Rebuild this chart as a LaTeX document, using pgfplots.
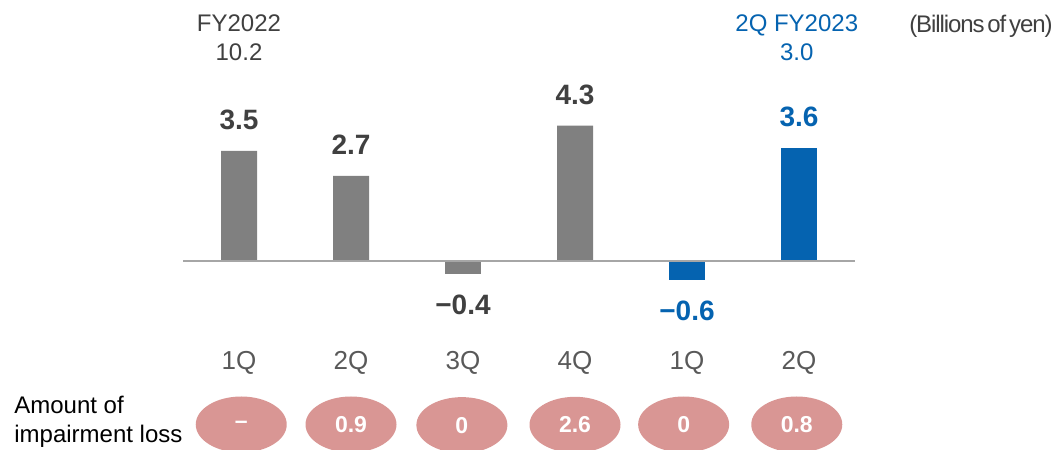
\documentclass[border=0pt]{standalone}
\usepackage{fontspec}
\setmainfont{Liberation Sans}
\newfontfamily\tightfont[LetterSpace=-4.5,WordSpace=0.5]{Liberation Sans}
\usepackage{pgfplots}
\pgfplotsset{compat=1.18}
\usetikzlibrary{shapes.geometric}

\definecolor{bargray}{HTML}{808080}
\definecolor{barblue}{HTML}{0563B0}
\definecolor{valtext}{HTML}{404040}
\definecolor{qtext}{HTML}{595959}
\definecolor{zeroline}{HTML}{A6A6A6}
\definecolor{losspink}{HTML}{D99694}

\pgfplotsset{
  qbar/.style={ybar, bar width=18pt, bar shift=0pt, draw=none,
    nodes near coords, point meta=explicit symbolic},
  poslabel/.style={nodes near coords style={font=\fontsize{14}{16}\selectfont\bfseries,
      anchor=base, inner sep=0pt, yshift=10.5pt}},
  neglabel/.style={nodes near coords style={font=\fontsize{14}{16}\selectfont\bfseries,
      anchor=base, inner sep=0pt, yshift=-20.5pt}},
}
\tikzset{
  qlabel/.style={anchor=base, inner sep=0pt, text=qtext, font=\fontsize{13}{15}\selectfont},
  toplabel/.style={anchor=base, inner sep=0pt, font=\fontsize{12}{14}\selectfont},
}

\begin{document}
\begin{tikzpicture}
\begin{axis}[
  scale only axis, width=527.5pt, height=224.5pt,
  xmin=-2.1339, xmax=7.2857, ymin=-5.968, ymax=8.286,
  hide axis, clip=false,
]
% FY2022 quarterly results
\addplot[qbar, fill=bargray, poslabel, nodes near coords style={text=valtext}]
  table[meta=label] {
  x y label
  0 3.5 3.5
  1 2.7 2.7
  3 4.3 4.3
};
\addplot[qbar, fill=bargray, neglabel, nodes near coords style={text=valtext}]
  table[meta=label] {
  x y label
  2 -0.4 −0.4
};
% FY2023 quarterly results
\addplot[qbar, fill=barblue, neglabel, nodes near coords style={text=barblue}]
  table[meta=label] {
  x y label
  4 -0.6 −0.6
};
\addplot[qbar, fill=barblue, poslabel, nodes near coords style={text=barblue}]
  table[meta=label] {
  x y label
  5 3.6 3.6
};
% zero line
\addplot[zeroline, line width=1pt] coordinates {(-0.5,0) (5.5,0)};

% impairment loss badges
\addplot[draw=none, mark=none, nodes near coords, point meta=explicit symbolic,
  nodes near coords style={ellipse, fill=losspink, text=white, inner sep=0pt,
    minimum width=45.5pt, minimum height=28pt, anchor=center,
    font=\fontsize{11.5}{13}\selectfont\bfseries}]
  table[meta=label] {
  x y label
  0.02 -5.19 –
  1.00 -5.19 0.9
  1.99 -5.21 0
  3.00 -5.20 2.6
  3.97 -5.19 0
  4.98 -5.19 0.8
};

% quarter labels
\node[qlabel] at (axis cs:0,-3.43) {1Q};
\node[qlabel] at (axis cs:1,-3.43) {2Q};
\node[qlabel] at (axis cs:2,-3.43) {3Q};
\node[qlabel] at (axis cs:3,-3.43) {4Q};
\node[qlabel] at (axis cs:4,-3.43) {1Q};
\node[qlabel] at (axis cs:5,-3.43) {2Q};

% period totals
\node[toplabel, text=valtext] at (axis cs:0,7.27) {FY2022};
\node[toplabel, text=valtext] at (axis cs:0,6.35) {10.2};
\node[toplabel, text=barblue] at (axis cs:4.98,7.27) {2Q FY2023};
\node[toplabel, text=barblue] at (axis cs:4.98,6.35) {3.0};

% unit
\node[anchor=base east, inner sep=0pt, text=valtext, font=\fontsize{12}{14}\tightfont]
  at (axis cs:7.268,7.24) {(Billions of yen)};

% row caption
\node[anchor=base west, inner sep=0pt, text=black, font=\fontsize{12}{14}\selectfont]
  at (axis cs:-2.009,-4.825) {Amount of};
\node[anchor=base west, inner sep=0pt, text=black, font=\fontsize{12}{14}\selectfont]
  at (axis cs:-2.009,-5.746) {impairment loss};
\end{axis}
\pgfresetboundingbox
\path (current axis.south west) rectangle (current axis.north east);
\end{tikzpicture}
\end{document}
